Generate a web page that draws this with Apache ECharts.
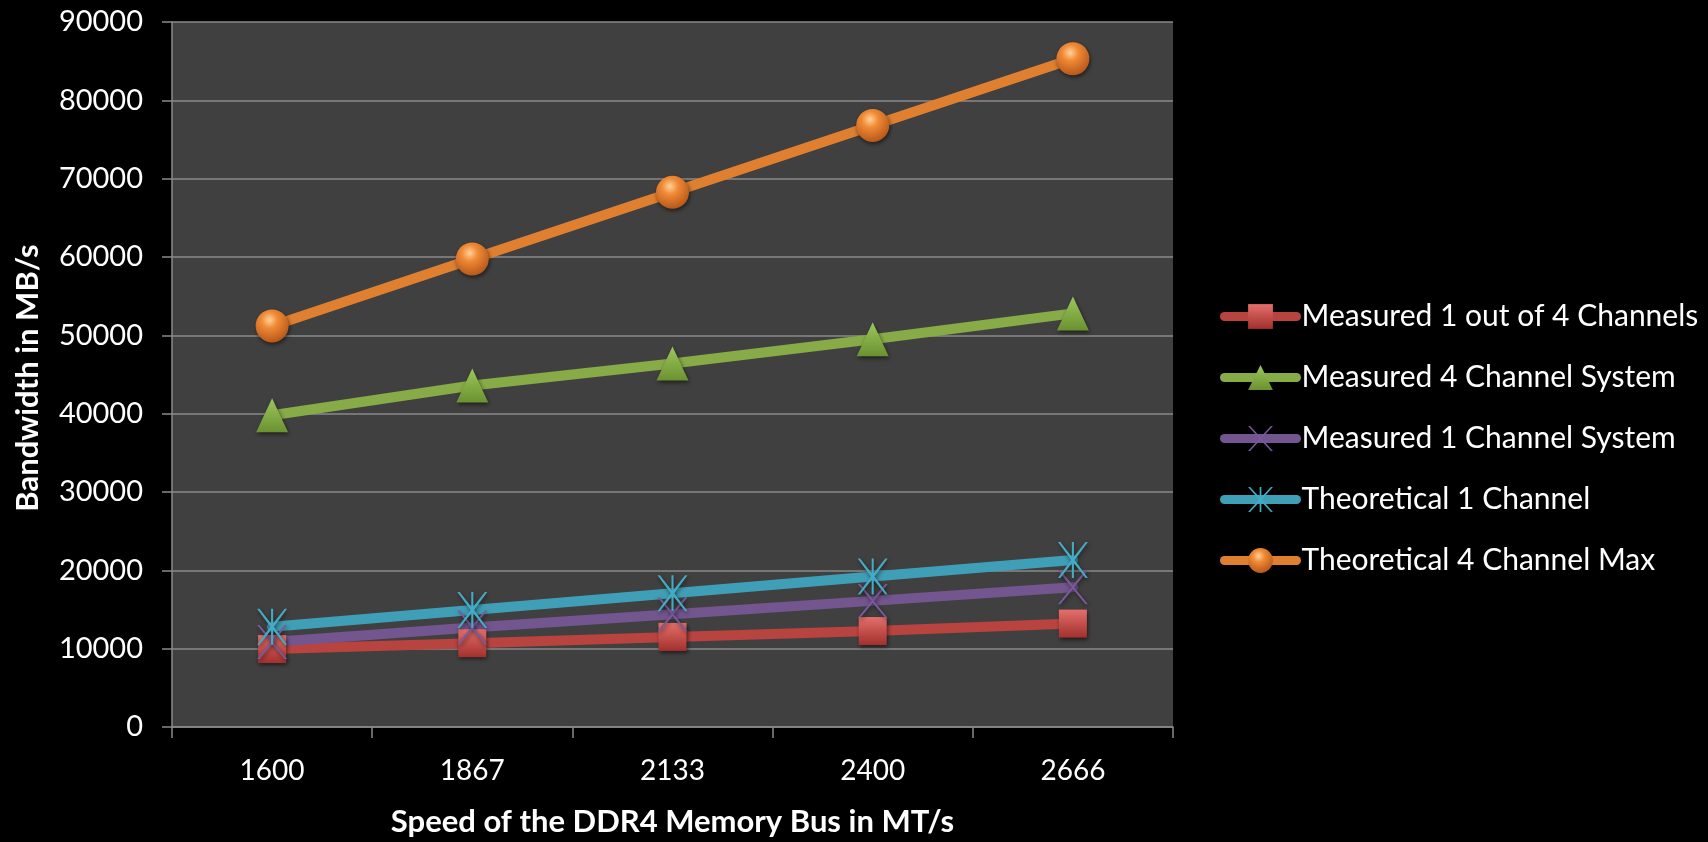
<!DOCTYPE html>
<html>
<head>
<meta charset="utf-8">
<script src="https://cdn.jsdelivr.net/npm/echarts@6/dist/echarts.min.js"></script>
<style>
  html, body { margin: 0; padding: 0; background: #000; }
  #chart { width: 1708px; height: 842px; }
</style>
</head>
<body>
<div id="chart"></div>
<script>
// Memory bus speeds (MT/s)
const speeds = ['1600', '1867', '2133', '2400', '2666'];

// Bandwidth in MB/s for each configuration
const measured1of4 = [9950, 10700, 11500, 12250, 13200];
const measured4ch = [39800, 43600, 46400, 49500, 52800];
const measured1ch = [10850, 12700, 14400, 16100, 17850];
const theoretical1ch = [12800, 14936, 17064, 19200, 21328];
const theoretical4chMax = [51200, 59744, 68256, 76800, 85312];

const seriesNames = [
  'Measured 1 out of 4 Channels',
  'Measured 4 Channel System',
  'Measured 1 Channel System',
  'Theoretical 1 Channel',
  'Theoretical 4 Channel Max'
];

const FONT = 'Lato';

// marker shapes
const xPath = 'path://M0,0 L1.6,0 L10,8.9 L18.4,0 L20,0 L10.8,10 L20,20 L18.4,20 L10,11.1 L1.6,20 L0,20 L9.2,10 Z';
const starPath = 'path://M0,0 L1.6,0 L9.3,8.2 L9.3,0 L10.7,0 L10.7,8.2 L18.4,0 L20,0 L11.2,10 L20,20 L18.4,20 L10.7,11.8 L10.7,20 L9.3,20 L9.3,11.8 L1.6,20 L0,20 L8.8,10 Z';

function vGrad(top, bottom) {
  return new echarts.graphic.LinearGradient(0, 0, 0, 1, [
    { offset: 0, color: top },
    { offset: 1, color: bottom }
  ]);
}

const sphere = {
  type: 'radial', x: 0.42, y: 0.32, r: 0.7,
  colorStops: [
    { offset: 0, color: '#ffd29a' },
    { offset: 0.35, color: '#f08a35' },
    { offset: 1, color: '#b5561a' }
  ]
};

const markerShadow = {
  shadowColor: 'rgba(0,0,0,0.55)',
  shadowBlur: 4,
  shadowOffsetX: 1,
  shadowOffsetY: 2
};

function lineSeries(name, data, color, symbol, size, fill) {
  return {
    name: name,
    type: 'line',
    data: data,
    symbol: symbol,
    symbolSize: size,
    showAllSymbol: true,
    lineStyle: { color: color, width: 10, cap: 'round', join: 'round' },
    itemStyle: Object.assign({ color: fill, borderWidth: 0 }, markerShadow),
    emphasis: { disabled: true },
    animation: false
  };
}

const chart = echarts.init(document.getElementById('chart'));

chart.setOption({
  backgroundColor: '#000000',
  animation: false,
  grid: {
    left: 172, right: 535, top: 22, bottom: 111,
    show: true, backgroundColor: '#404040', borderWidth: 0
  },
  legend: {
    orient: 'vertical',
    left: 1220,
    top: 301,
    padding: 0,
    itemWidth: 72,
    itemHeight: 31,
    itemGap: 30,
    textStyle: { color: '#ffffff', fontFamily: FONT, fontSize: 30, lineHeight: 31 },
    lineStyle: { width: 9, cap: 'round' },
    data: seriesNames
  },
  xAxis: {
    type: 'category',
    data: speeds,
    boundaryGap: true,
    axisLine: { show: true, lineStyle: { color: '#8a8a8a', width: 1.5 } },
    axisTick: { show: true, alignWithLabel: false, length: 11, lineStyle: { color: '#8a8a8a', width: 1.5 } },
    axisLabel: { color: '#ffffff', fontFamily: FONT, fontSize: 28, margin: 30 },
    splitLine: { show: false },
    name: 'Speed of the DDR4 Memory Bus in MT/s',
    nameLocation: 'middle',
    nameGap: 79,
    nameTextStyle: { color: '#ffffff', fontFamily: FONT, fontSize: 31, fontWeight: 'bold' }
  },
  yAxis: {
    type: 'value',
    min: 0,
    max: 90000,
    interval: 10000,
    axisLine: { show: true, lineStyle: { color: '#8a8a8a', width: 1.5 } },
    axisTick: { show: true, length: 10, lineStyle: { color: '#8a8a8a', width: 1.5 } },
    axisLabel: {
      color: '#ffffff', fontFamily: FONT, fontSize: 29, margin: 29,
      formatter: function (v) { return String(v); }
    },
    splitLine: { show: true, lineStyle: { color: '#8a8a8a', width: 1.5 } },
    name: 'Bandwidth in MB/s',
    nameLocation: 'middle',
    nameRotate: 90,
    nameGap: 129,
    nameTextStyle: {
      color: '#ffffff', fontFamily: FONT, fontSize: 31, fontWeight: 'bold',
      padding: [0, 7, 0, 0]
    }
  },
  series: [
    lineSeries(seriesNames[0], measured1of4, '#b9433f', 'rect', 28, vGrad('#e46f6b', '#a3302d')),
    lineSeries(seriesNames[1], measured4ch, '#87ab47', 'triangle', [32, 34], vGrad('#9cc65c', '#6b9230')),
    lineSeries(seriesNames[2], measured1ch, '#73558f', xPath, [30, 34], '#7a5a9c'),
    lineSeries(seriesNames[3], theoretical1ch, '#3f9fb7', starPath, [30, 36], '#45aac4'),
    lineSeries(seriesNames[4], theoretical4chMax, '#df7f30', 'circle', 33, sphere)
  ]
});
</script>
</body>
</html>
